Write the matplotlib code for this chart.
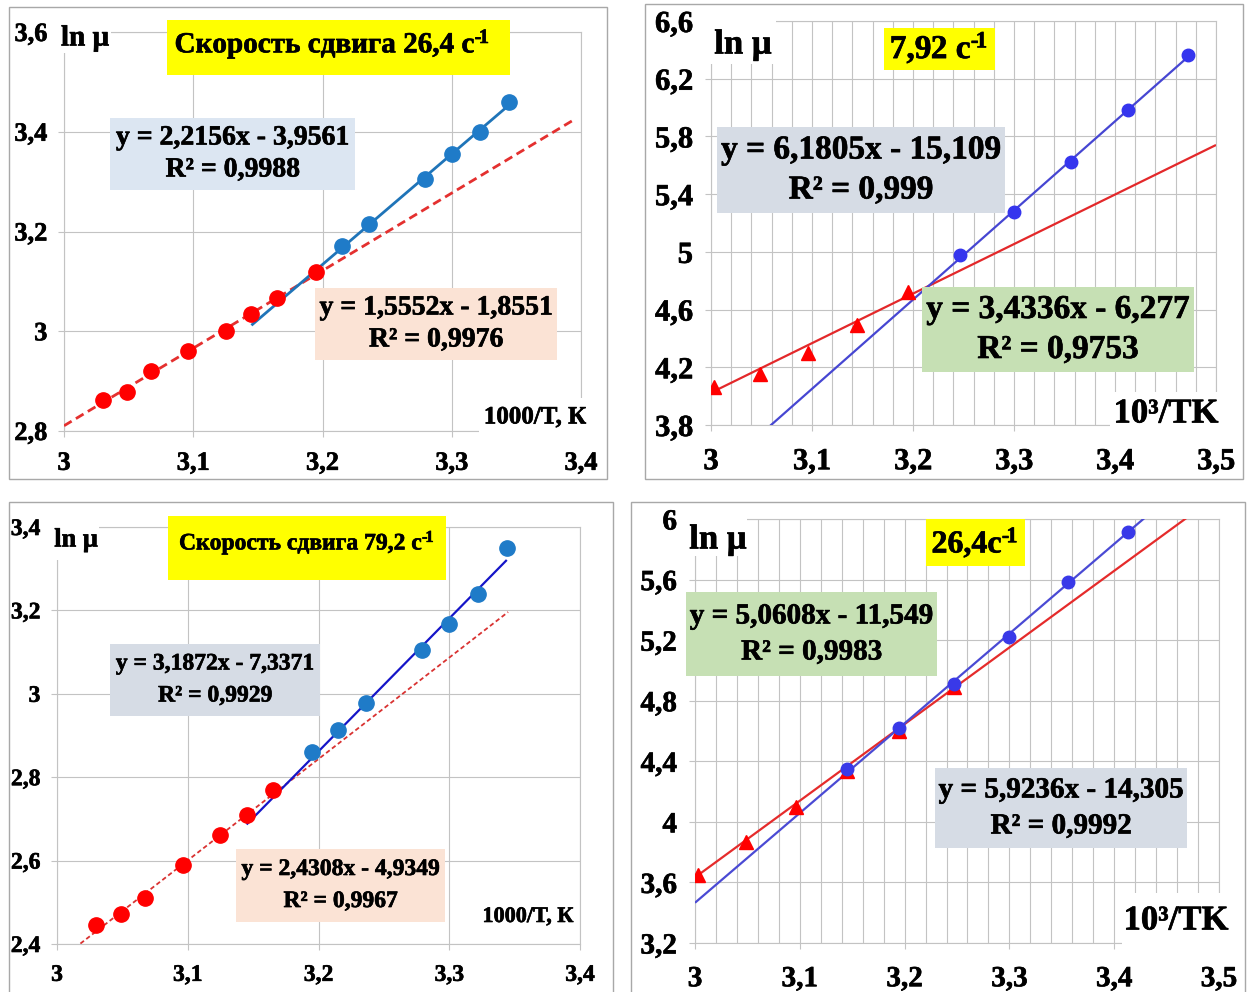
import matplotlib
matplotlib.use("Agg")
import matplotlib.pyplot as plt
import matplotlib.patheffects as pe
from matplotlib.patches import Rectangle
from matplotlib.ticker import FixedLocator, MultipleLocator, FuncFormatter

# ---------------- data ----------------
# Panel 1: shear rate 26.4 1/s
p1_x_red = [3.030, 3.049, 3.067, 3.096, 3.125, 3.145, 3.165, 3.195]
p1_y_red = [2.862, 2.878, 2.920, 2.960, 3.000, 3.034, 3.066, 3.118]
p1_x_blue = [3.215, 3.236, 3.279, 3.300, 3.322, 3.344]
p1_y_blue = [3.170, 3.216, 3.306, 3.356, 3.400, 3.460]
p1_fit_red = (1.5552, -1.8551, 0.9976)
p1_fit_blue = (2.2156, -3.9561, 0.9988)
p1_span_red = (3.000, 3.395)
p1_span_blue = (3.145, 3.344)
p1_xticks = [3.0, 3.1, 3.2, 3.3, 3.4]
p1_yticks = [2.8, 3.0, 3.2, 3.4, 3.6]

# Panel 2: shear rate 7.92 1/s
p2_x_red = [3.003, 3.049, 3.096, 3.145, 3.195]
p2_y_red = [4.064, 4.154, 4.300, 4.495, 4.724]
p2_x_blue = [3.247, 3.300, 3.356, 3.413, 3.472]
p2_y_blue = [4.980, 5.273, 5.620, 5.982, 6.364]
p2_fit_red = (3.4336, -6.277, 0.9753)
p2_fit_blue = (6.1805, -15.109, 0.999)
p2_span_red = (3.000, 3.500)
p2_span_blue = (3.000, 3.472)
p2_xticks = [3.0, 3.1, 3.2, 3.3, 3.4, 3.5]
p2_yticks = [3.8, 4.2, 4.6, 5.0, 5.4, 5.8, 6.2, 6.6]

# Panel 3: shear rate 79.2 1/s
p3_x_red = [3.030, 3.049, 3.067, 3.096, 3.125, 3.145, 3.165]
p3_y_red = [2.446, 2.471, 2.511, 2.589, 2.661, 2.709, 2.769]
p3_x_blue = [3.195, 3.215, 3.236, 3.279, 3.300, 3.322, 3.344]
p3_y_blue = [2.861, 2.913, 2.977, 3.105, 3.167, 3.239, 3.350]
p3_fit_red = (2.4308, -4.9349, 0.9967)
p3_fit_blue = (3.1872, -7.3371, 0.9929)
p3_span_red = (3.000, 3.345)
p3_span_blue = (3.145, 3.344)
p3_xticks = [3.0, 3.1, 3.2, 3.3, 3.4]
p3_yticks = [2.4, 2.6, 2.8, 3.0, 3.2, 3.4]

# Panel 4: shear rate 26.4 1/s
p4_x_red = [3.003, 3.049, 3.096, 3.145, 3.195, 3.247]
p4_y_red = [3.649, 3.865, 4.096, 4.338, 4.598, 4.889]
p4_x_blue = [3.145, 3.195, 3.247, 3.300, 3.356, 3.413]
p4_y_blue = [4.349, 4.618, 4.909, 5.223, 5.582, 5.913]
p4_fit_red = (5.0608, -11.549, 0.9983)
p4_fit_blue = (5.9236, -14.305, 0.9992)
p4_span_red = (3.000, 3.500)
p4_span_blue = (3.000, 3.500)
p4_xticks = [3.0, 3.1, 3.2, 3.3, 3.4, 3.5]
p4_yticks = [3.2, 3.6, 4.0, 4.4, 4.8, 5.2, 5.6, 6.0]

# ---------------- style ----------------
plt.rcParams["font.family"] = ["Liberation Serif", "DejaVu Serif"]
plt.rcParams["font.weight"] = "bold"
plt.rcParams["mathtext.fontset"] = "custom"
plt.rcParams["mathtext.rm"] = "Liberation Serif:bold"
plt.rcParams["mathtext.bf"] = "Liberation Serif:bold"
plt.rcParams["mathtext.it"] = "Liberation Serif:bold:italic"
plt.rcParams["mathtext.default"] = "rm"

W, H = 1247, 992
fig = plt.figure(figsize=(W / 100, H / 100), dpi=100)
fig.patch.set_facecolor("white")

GRID = "#C3C3C3"
FRAME = "#A8A8A8"
HEAVY = [pe.withStroke(linewidth=0.45, foreground="black")]
SUP = "$^{\u2010\\!1}$"


def comma(v):
    return f"{v:g}".replace(".", ",")


def rect_px(x0, y0, x1, y1, face, edge="none", lw=0.0):
    r = Rectangle((x0 / W, 1 - y1 / H), (x1 - x0) / W, (y1 - y0) / H,
                  transform=fig.transFigure, facecolor=face, edgecolor=edge,
                  linewidth=lw)
    fig.add_artist(r)
    return r


def text_px(x, y, s, size, **kw):
    fig.text(x / W, 1 - y / H, s, fontsize=size, fontweight="bold",
             ha=kw.pop("ha", "center"), va=kw.pop("va", "center"),
             path_effects=HEAVY, **kw)


def make_axes(left, top, right, bottom, xlim, ylim, xticks, yticks,
              tick_size, xpad, ypad, minor_x=None):
    ax = fig.add_axes([left / W, 1 - bottom / H, (right - left) / W,
                       (bottom - top) / H])
    ax.set_xlim(*xlim)
    ax.set_ylim(*ylim)
    ax.xaxis.set_major_locator(FixedLocator(xticks))
    ax.yaxis.set_major_locator(FixedLocator(yticks))
    fmt = FuncFormatter(lambda v, _: comma(round(v, 3)))
    ax.xaxis.set_major_formatter(fmt)
    ax.yaxis.set_major_formatter(fmt)
    if minor_x:
        ax.xaxis.set_minor_locator(MultipleLocator(minor_x))
        ax.grid(True, which="minor", axis="x", color=GRID, linewidth=0.8)
        ax.tick_params(which="minor", length=0)
    ax.grid(True, which="major", color=GRID, linewidth=0.8)
    ax.set_axisbelow(True)
    for sp in ax.spines.values():
        sp.set_color(GRID)
        sp.set_linewidth(0.8)
    ax.tick_params(which="major", length=4, color=GRID, width=0.8,
                   labelsize=tick_size)
    ax.tick_params(axis="x", pad=xpad)
    ax.tick_params(axis="y", pad=ypad)
    for lab in ax.get_xticklabels() + ax.get_yticklabels():
        lab.set_fontweight("bold")
        lab.set_path_effects(HEAVY)
    return ax


def fit_line(ax, fit, span, color, lw, dashes=None):
    a, b, _ = fit
    xs = [span[0], span[1]]
    ys = [a * x + b for x in xs]
    line, = ax.plot(xs, ys, color=color, linewidth=lw,
                    solid_capstyle="butt", zorder=3)
    if dashes:
        line.set_dashes(dashes)


def eq_box(x0, y0, x1, y1, face, fit, size, dy):
    a, b, r2 = fit
    rect_px(x0, y0, x1, y1, face)
    cx = (x0 + x1) / 2
    cy = (y0 + y1) / 2
    text_px(cx, cy - dy, f"y = {comma(a)}x - {comma(-b)}", size)
    text_px(cx, cy + dy, f"R² = {comma(r2)}", size)


# ---------------- panel frames ----------------
rect_px(9, 7, 607, 479, "none", FRAME, 1.0)
rect_px(645, 4, 1243, 479, "none", FRAME, 1.0)
rect_px(9, 502, 613, 996, "none", FRAME, 1.0)
rect_px(631, 502, 1245, 996, "none", FRAME, 1.0)

# ---------------- panel 1 ----------------
ax1 = make_axes(64, 32, 581, 431, (3.0, 3.4), (2.8, 3.6), p1_xticks,
                p1_yticks, 19, 11, 8)
fit_line(ax1, p1_fit_red, p1_span_red, "#E4302F", 2.0, dashes=(3.2, 1.8))
fit_line(ax1, p1_fit_blue, p1_span_blue, "#1F74B8", 2.0)
ax1.plot(p1_x_red, p1_y_red, "o", color="#FF0000", markersize=11, zorder=4)
ax1.plot(p1_x_blue, p1_y_blue, "o", color="#1F7BC8", markersize=11, zorder=4)

rect_px(55, 18, 111, 53, "white")
text_px(85, 38, "ln μ", 21)
rect_px(167, 20, 510, 75, "#FFFF00")
text_px(332, 44, "Скорость сдвига 26,4 с" + SUP, 21)
eq_box(110, 118, 355, 190, "#DCE6F2", p1_fit_blue, 20, 16)
eq_box(315, 288, 557, 360, "#FBE3D5", p1_fit_red, 20, 16)
rect_px(479, 398, 590, 440, "white")
text_px(535, 417, "1000/T, К", 18)

# ---------------- panel 2 ----------------
ax2 = make_axes(711, 21, 1216, 425, (3.0, 3.5), (3.8, 6.6), p2_xticks,
                p2_yticks, 22, 12, 9, minor_x=0.02)
fit_line(ax2, p2_fit_red, p2_span_red, "#E3282A", 1.6)
fit_line(ax2, p2_fit_blue, p2_span_blue, "#4646D2", 1.6)
ax2.plot(p2_x_red, p2_y_red, "^", color="#FF0000", markersize=10, zorder=4)
ax2.plot(p2_x_blue, p2_y_blue, "o", color="#3535EE", markersize=9, zorder=4)

rect_px(700, 14, 776, 64, "white")
text_px(743, 45, "ln μ", 25)
rect_px(884, 28, 995, 70, "#FFFF00")
text_px(939, 48, "7,92 с" + SUP, 24)
eq_box(717, 127, 1005, 213, "#D6DCE5", p2_fit_blue, 24, 20)
eq_box(922, 287, 1194, 372, "#C6E0B4", p2_fit_red, 24, 20)
rect_px(1110, 392, 1224, 440, "white")
text_px(1166, 414, "10³/TK", 25)

# ---------------- panel 3 ----------------
ax3 = make_axes(57, 527, 580, 944, (3.0, 3.4), (2.4, 3.4), p3_xticks,
                p3_yticks, 17, 11, 8)
fit_line(ax3, p3_fit_red, p3_span_red, "#D93231", 1.3, dashes=(2.5, 1.6))
fit_line(ax3, p3_fit_blue, p3_span_blue, "#1515C8", 1.6)
ax3.plot(p3_x_red, p3_y_red, "o", color="#FF0000", markersize=11, zorder=4)
ax3.plot(p3_x_blue, p3_y_blue, "o", color="#1F7BC8", markersize=11, zorder=4)

rect_px(50, 514, 99, 560, "white")
text_px(76, 540, "ln μ", 19)
rect_px(168, 516, 446, 580, "#FFFF00")
text_px(307, 543, "Скорость сдвига 79,2 с" + SUP, 17)
eq_box(110, 644, 320, 716, "#D6DCE5", p3_fit_blue, 17, 16)
eq_box(236, 849, 445, 922, "#FBE3D5", p3_fit_red, 17, 16)
text_px(528, 917, "1000/T, К", 16)

# ---------------- panel 4 ----------------
ax4 = make_axes(695, 519, 1219, 943, (3.0, 3.5), (3.2, 6.0), p4_xticks,
                p4_yticks, 21, 12, 9, minor_x=0.02)
fit_line(ax4, p4_fit_red, p4_span_red, "#E52B2B", 1.6)
fit_line(ax4, p4_fit_blue, p4_span_blue, "#4A4AD4", 1.6)
ax4.plot(p4_x_red, p4_y_red, "^", color="#FF0000", markersize=10, zorder=4)
ax4.plot(p4_x_blue, p4_y_blue, "o", color="#3939E8", markersize=9, zorder=4)

rect_px(680, 514, 747, 556, "white")
text_px(718, 540, "ln μ", 25)
rect_px(926, 519, 1025, 566, "#FFFF00")
text_px(975, 543, "26,4с" + SUP, 23)
eq_box(686, 592, 937, 676, "#C6E0B4", p4_fit_red, 21, 18)
eq_box(935, 768, 1187, 848, "#D6DCE5", p4_fit_blue, 21, 18)
rect_px(1122, 893, 1236, 950, "white")
text_px(1176, 921, "10³/TK", 25)

fig.savefig("out.png", dpi=100, facecolor="white")
